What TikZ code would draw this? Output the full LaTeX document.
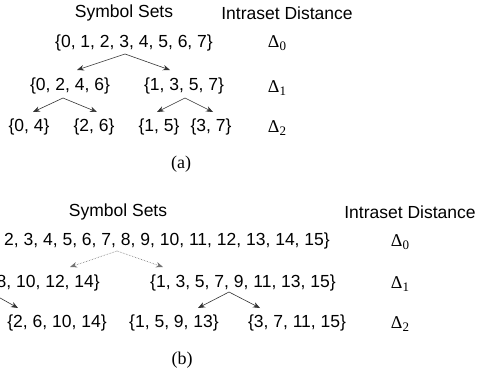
\documentclass[tikz,border=0pt]{standalone}
\usepackage{fontspec}
\setmainfont{Liberation Sans}
\newfontfamily\timesf{Liberation Serif}
\usetikzlibrary{arrows.meta}
\newcommand\dlt[1]{Δ\raisebox{-0.35ex}{\fontsize{13}{13}\selectfont #1}}
\begin{document}
\begin{tikzpicture}[x=1pt,y=-1pt,
  lbl/.style={inner sep=0pt, font=\fontsize{17.5}{20}\selectfont},
  dl/.style={inner sep=0pt, font=\timesf\fontsize{18}{20}\selectfont},
  arr/.style={draw=black!80, line width=0.6pt, -{Stealth[length=7pt,width=5.5pt]}},
  darr/.style={arr, draw=black!55, densely dotted}]
\clip (0,0) rectangle (478,372);
% ---------- (a)
\node[lbl] (ssA) at (124,13) {Symbol Sets};
\node[lbl] (idA) at (287,13) {Intraset Distance};
\node[lbl] (a0) at (134,43) {\{0, 1, 2, 3, 4, 5, 6, 7\}};
\node[lbl] (a10) at (70,86) {\{0, 2, 4, 6\}};
\node[lbl] (a11) at (184,86) {\{1, 3, 5, 7\}};
\node[lbl] (a20) at (29,127) {\{0, 4\}};
\node[lbl] (a21) at (94,127) {\{2, 6\}};
\node[lbl] (a22) at (159,127) {\{1, 5\}};
\node[lbl] (a23) at (211,127) {\{3, 7\}};
\node[dl] (dA0) at (277,43) {\dlt{0}};
\node[dl] (dA1) at (277,88) {\dlt{1}};
\node[dl] (dA2) at (277,128) {\dlt{2}};
\node[dl] (capA) at (181,164) {(a)};
\coordinate (a0s) at (125,54);
\coordinate (t10) at (77,70);
\coordinate (t11) at (170,70);
\coordinate (a10s) at (63,98);
\coordinate (t20) at (33,112);
\coordinate (t21) at (97,112);
\coordinate (a11s) at (185,98);
\coordinate (t22) at (157,112);
\coordinate (t23) at (213,112);
\draw[arr] (a0s) -- (t10);
\draw[arr] (a0s) -- (t11);
\draw[arr] (a10s) -- (t20);
\draw[arr] (a10s) -- (t21);
\draw[arr] (a11s) -- (t22);
\draw[arr] (a11s) -- (t23);
% ---------- (b)
\node[lbl] (ssB) at (118,212) {Symbol Sets};
\node[lbl] (idB) at (410,212) {Intraset Distance};
\node[lbl, anchor=east] (b0) at (330,241) {\{0, 1, 2, 3, 4, 5, 6, 7, 8, 9, 10, 11, 12, 13, 14, 15\}};
\node[lbl, anchor=east] (b10) at (100,283) {\{0, 2, 4, 6, 8, 10, 12, 14\}};
\node[lbl] (b11) at (243,283) {\{1, 3, 5, 7, 9, 11, 13, 15\}};
\node[lbl] (b21) at (57,323) {\{2, 6, 10, 14\}};
\node[lbl] (b22) at (174,323) {\{1, 5, 9, 13\}};
\node[lbl] (b23) at (297,323) {\{3, 7, 11, 15\}};
\node[dl] (dB0) at (400,242) {\dlt{0}};
\node[dl] (dB1) at (400,284) {\dlt{1}};
\node[dl] (dB2) at (400,324) {\dlt{2}};
\node[dl] (capB) at (182,360) {(b)};
\coordinate (b0s) at (117,251);
\coordinate (u10) at (70,267);
\coordinate (u11) at (163,267);
\coordinate (b10s) at (-7,294);
\coordinate (u21) at (18,308);
\coordinate (b11s) at (229,292);
\coordinate (u22) at (198,308);
\coordinate (u23) at (260,308);
\draw[darr] (b0s) -- (u10);
\draw[darr] (b0s) -- (u11);
\draw[arr] (b10s) -- (u21);
\draw[arr] (b11s) -- (u22);
\draw[arr] (b11s) -- (u23);
\end{tikzpicture}
\end{document}
